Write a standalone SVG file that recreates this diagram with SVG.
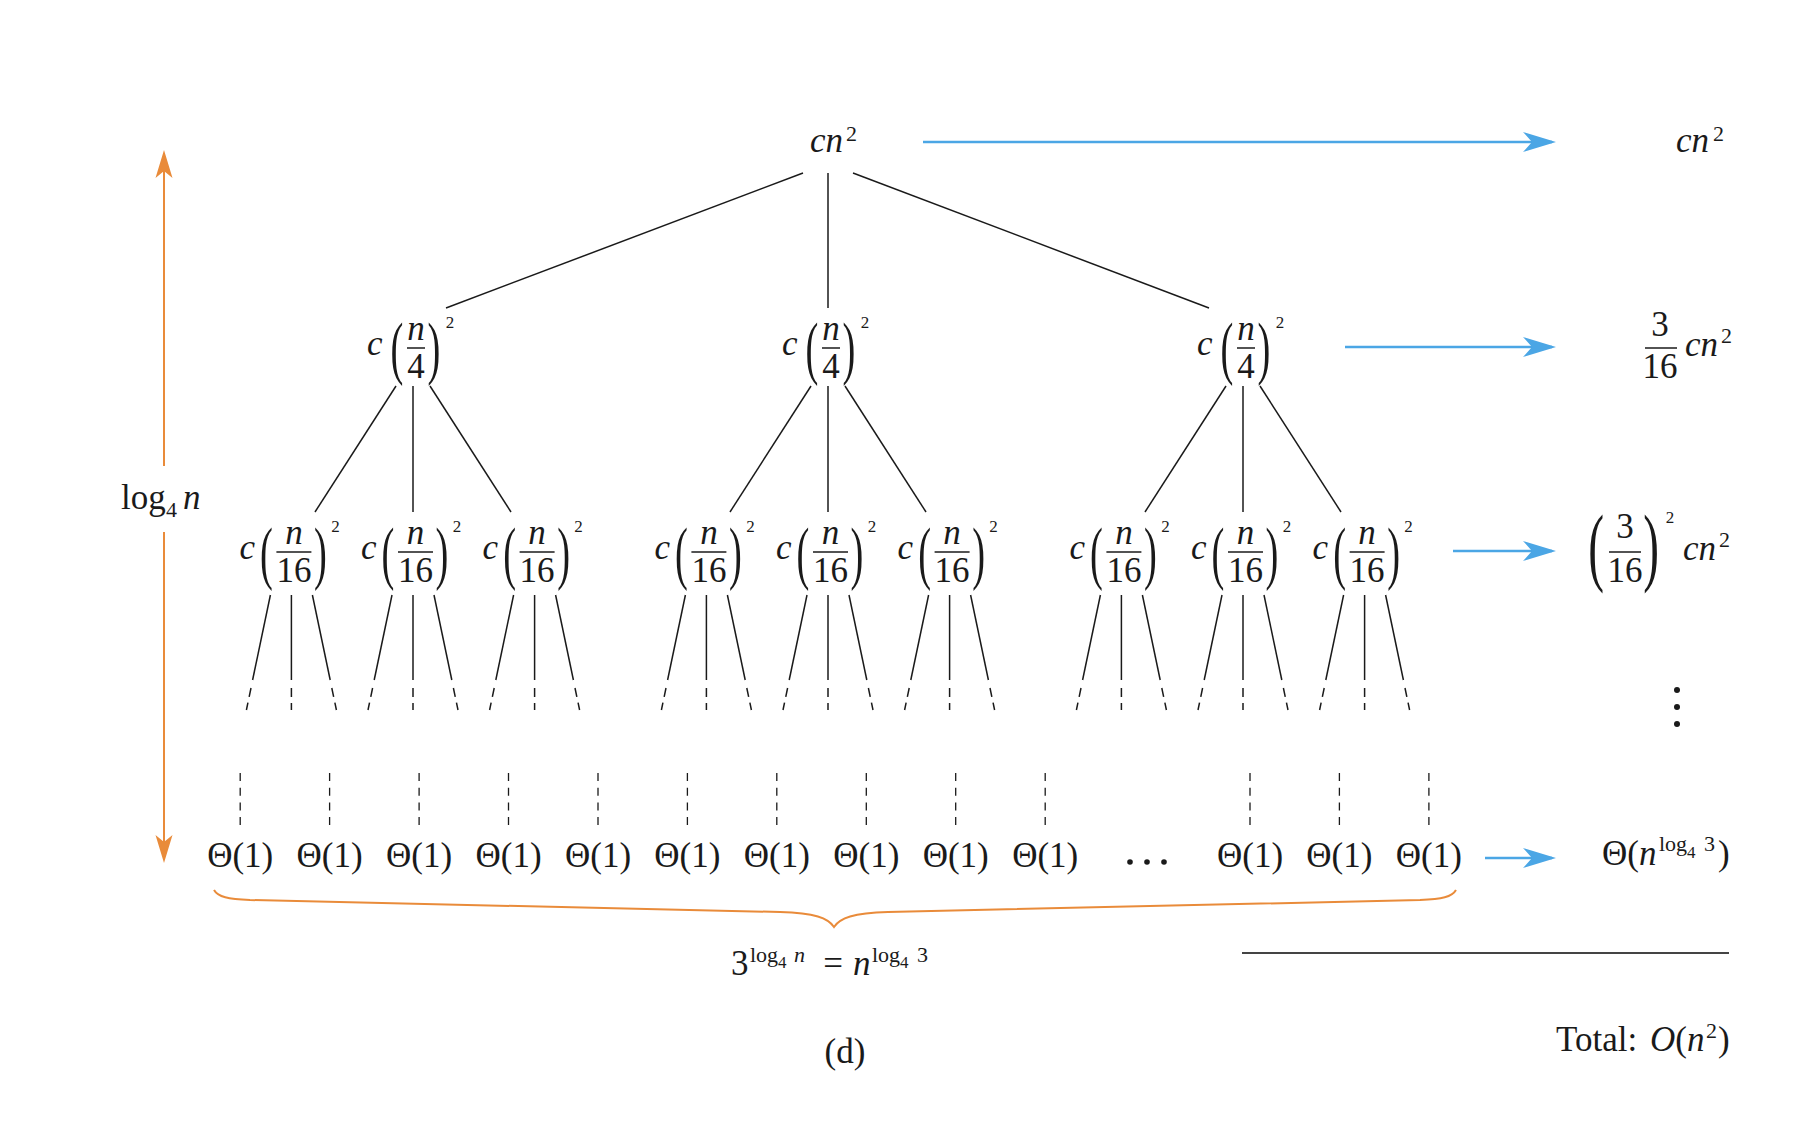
<svg xmlns="http://www.w3.org/2000/svg" width="1804" height="1144" viewBox="0 0 1804 1144">
<style>
.t{font-family:"Liberation Serif","Times New Roman",serif;font-size:35px;fill:#1a1a1a}
.i{font-style:italic}
.s{font-size:22px}
.ss{font-size:17px}
.p{font-size:70px}
.pr{font-size:86px}
.m{text-anchor:middle}
.fb{stroke:#1a1a1a;stroke-width:1.5}
.e line{stroke:#1a1a1a;stroke-width:1.5;fill:none}
.e line.d{stroke-dasharray:9 6}
.e line.v{stroke-dasharray:8 6.7;stroke-width:1.3}
.blue{stroke:#4BA6E5;stroke-width:2.6;fill:none}
.or{stroke:#E98B3A;stroke-width:2;fill:none}
</style>
<defs>
<marker id="ab" markerUnits="userSpaceOnUse" viewBox="-32 -12 38 24" refX="0" refY="0" markerWidth="38" markerHeight="24" orient="auto">
<path d="M4,0 L-29,-10 L-20,0 L-29,10 Z" fill="#4BA6E5"/>
</marker>
<marker id="ao" markerUnits="userSpaceOnUse" viewBox="-28 -10 34 20" refX="0" refY="0" markerWidth="34" markerHeight="20" orient="auto">
<path d="M3,0 L-25,-8.5 L-18,0 L-25,8.5 Z" fill="#E98B3A"/>
</marker>
</defs>
<rect width="1804" height="1144" fill="#fff"/>

<g id="connectors" class="e">
<line x1="803" y1="173" x2="446" y2="308"/>
<line x1="828" y1="173" x2="828" y2="308"/>
<line x1="853" y1="173" x2="1209" y2="308"/>

<line x1="396" y1="386" x2="315" y2="512"/>
<line x1="413" y1="386" x2="413" y2="512"/>
<line x1="430" y1="386" x2="511" y2="512"/>
<line x1="811" y1="386" x2="730" y2="512"/>
<line x1="828" y1="386" x2="828" y2="512"/>
<line x1="845" y1="386" x2="926" y2="512"/>
<line x1="1226" y1="386" x2="1145" y2="512"/>
<line x1="1243" y1="386" x2="1243" y2="512"/>
<line x1="1260" y1="386" x2="1341" y2="512"/>

<line x1="270.4" y1="595" x2="252.6" y2="680"/><line x1="291.4" y1="595" x2="291.4" y2="680"/><line x1="312.4" y1="595" x2="330.2" y2="680"/>
<line class="d" x1="251" y1="688" x2="246.4" y2="710"/><line class="d" x1="291.4" y1="688" x2="291.4" y2="710"/><line class="d" x1="331.8" y1="688" x2="336.4" y2="710"/>
<line x1="392" y1="595" x2="374.2" y2="680"/><line x1="413" y1="595" x2="413" y2="680"/><line x1="434" y1="595" x2="451.8" y2="680"/>
<line class="d" x1="372.6" y1="688" x2="368" y2="710"/><line class="d" x1="413" y1="688" x2="413" y2="710"/><line class="d" x1="453.4" y1="688" x2="458" y2="710"/>
<line x1="513.6" y1="595" x2="495.8" y2="680"/><line x1="534.6" y1="595" x2="534.6" y2="680"/><line x1="555.6" y1="595" x2="573.4" y2="680"/>
<line class="d" x1="494.2" y1="688" x2="489.6" y2="710"/><line class="d" x1="534.6" y1="688" x2="534.6" y2="710"/><line class="d" x1="575" y1="688" x2="579.6" y2="710"/>
<line x1="685.4" y1="595" x2="667.6" y2="680"/><line x1="706.4" y1="595" x2="706.4" y2="680"/><line x1="727.4" y1="595" x2="745.2" y2="680"/>
<line class="d" x1="666" y1="688" x2="661.4" y2="710"/><line class="d" x1="706.4" y1="688" x2="706.4" y2="710"/><line class="d" x1="746.8" y1="688" x2="751.4" y2="710"/>
<line x1="807" y1="595" x2="789.2" y2="680"/><line x1="828" y1="595" x2="828" y2="680"/><line x1="849" y1="595" x2="866.8" y2="680"/>
<line class="d" x1="787.6" y1="688" x2="783" y2="710"/><line class="d" x1="828" y1="688" x2="828" y2="710"/><line class="d" x1="868.4" y1="688" x2="873" y2="710"/>
<line x1="928.6" y1="595" x2="910.8" y2="680"/><line x1="949.6" y1="595" x2="949.6" y2="680"/><line x1="970.6" y1="595" x2="988.4" y2="680"/>
<line class="d" x1="909.2" y1="688" x2="904.6" y2="710"/><line class="d" x1="949.6" y1="688" x2="949.6" y2="710"/><line class="d" x1="990" y1="688" x2="994.6" y2="710"/>
<line x1="1100.4" y1="595" x2="1082.6" y2="680"/><line x1="1121.4" y1="595" x2="1121.4" y2="680"/><line x1="1142.4" y1="595" x2="1160.2" y2="680"/>
<line class="d" x1="1081" y1="688" x2="1076.4" y2="710"/><line class="d" x1="1121.4" y1="688" x2="1121.4" y2="710"/><line class="d" x1="1161.8" y1="688" x2="1166.4" y2="710"/>
<line x1="1222" y1="595" x2="1204.2" y2="680"/><line x1="1243" y1="595" x2="1243" y2="680"/><line x1="1264" y1="595" x2="1281.8" y2="680"/>
<line class="d" x1="1202.6" y1="688" x2="1198" y2="710"/><line class="d" x1="1243" y1="688" x2="1243" y2="710"/><line class="d" x1="1283.4" y1="688" x2="1288" y2="710"/>
<line x1="1343.6" y1="595" x2="1325.8" y2="680"/><line x1="1364.6" y1="595" x2="1364.6" y2="680"/><line x1="1385.6" y1="595" x2="1403.4" y2="680"/>
<line class="d" x1="1324.2" y1="688" x2="1319.6" y2="710"/><line class="d" x1="1364.6" y1="688" x2="1364.6" y2="710"/><line class="d" x1="1405" y1="688" x2="1409.6" y2="710"/>

<line class="v" x1="240.2" y1="773" x2="240.2" y2="825"/>
<line class="v" x1="329.6" y1="773" x2="329.6" y2="825"/>
<line class="v" x1="419.1" y1="773" x2="419.1" y2="825"/>
<line class="v" x1="508.5" y1="773" x2="508.5" y2="825"/>
<line class="v" x1="598" y1="773" x2="598" y2="825"/>
<line class="v" x1="687.4" y1="773" x2="687.4" y2="825"/>
<line class="v" x1="776.8" y1="773" x2="776.8" y2="825"/>
<line class="v" x1="866.3" y1="773" x2="866.3" y2="825"/>
<line class="v" x1="955.7" y1="773" x2="955.7" y2="825"/>
<line class="v" x1="1045.2" y1="773" x2="1045.2" y2="825"/>
<line class="v" x1="1250" y1="773" x2="1250" y2="825"/>
<line class="v" x1="1339.4" y1="773" x2="1339.4" y2="825"/>
<line class="v" x1="1428.9" y1="773" x2="1428.9" y2="825"/>

<path class="blue" d="M923,142 H1552" marker-end="url(#ab)"/>
<path class="blue" d="M1345,347 H1552" marker-end="url(#ab)"/>
<path class="blue" d="M1453,551 H1552" marker-end="url(#ab)"/>
<path class="blue" d="M1485,858 H1552" marker-end="url(#ab)"/>

<path class="or" d="M164,466 V153" marker-end="url(#ao)"/>
<path class="or" d="M164,532 V860" marker-end="url(#ao)"/>
<path class="or" d="M214,890 C218,897 228,899 250,900 L780,912 C815,913 828,918 834,927 C840,918 853,913 888,912 L1420,900 C1442,899 1452,897 1456,890"/>
<line x1="1242" y1="953" x2="1729" y2="953" style="stroke:#444;stroke-width:2;stroke-dasharray:none"/>
</g>

<g id="root" class="t">
<text class="i" x="810" y="152">cn</text>
<text class="s" x="846" y="141">2</text>
</g>

<g id="l1a" class="t">
<text class="i" x="367" y="355">c</text>
<text class="p m" transform="translate(397,371) scale(0.55,1)">(</text>
<text class="i m" x="416" y="340">n</text>
<line class="fb" x1="407" y1="348" x2="425" y2="348"/>
<text class="m" x="416" y="378">4</text>
<text class="p m" transform="translate(434,371) scale(0.55,1)">)</text>
<text class="ss m" x="450" y="328">2</text>
</g>
<g id="l1b" class="t">
<text class="i" x="782" y="355">c</text>
<text class="p m" transform="translate(812,371) scale(0.55,1)">(</text>
<text class="i m" x="831" y="340">n</text>
<line class="fb" x1="822" y1="348" x2="840" y2="348"/>
<text class="m" x="831" y="378">4</text>
<text class="p m" transform="translate(849,371) scale(0.55,1)">)</text>
<text class="ss m" x="865" y="328">2</text>
</g>
<g id="l1c" class="t">
<text class="i" x="1197" y="355">c</text>
<text class="p m" transform="translate(1227,371) scale(0.55,1)">(</text>
<text class="i m" x="1246" y="340">n</text>
<line class="fb" x1="1237" y1="348" x2="1255" y2="348"/>
<text class="m" x="1246" y="378">4</text>
<text class="p m" transform="translate(1264,371) scale(0.55,1)">)</text>
<text class="ss m" x="1280" y="328">2</text>
</g>

<g id="l2a" class="t">
<text class="i" x="239.4" y="559">c</text>
<text class="p m" transform="translate(266.4,575.5) scale(0.55,1)">(</text>
<text class="i m" x="293.9" y="544">n</text>
<line class="fb" x1="276.4" y1="552" x2="311.4" y2="552"/>
<text class="m" x="293.9" y="582">16</text>
<text class="p m" transform="translate(320.4,575.5) scale(0.55,1)">)</text>
<text class="ss m" x="335.4" y="532">2</text>
</g>
<g id="l2b" class="t">
<text class="i" x="361" y="559">c</text>
<text class="p m" transform="translate(388,575.5) scale(0.55,1)">(</text>
<text class="i m" x="415.5" y="544">n</text>
<line class="fb" x1="398" y1="552" x2="433" y2="552"/>
<text class="m" x="415.5" y="582">16</text>
<text class="p m" transform="translate(442,575.5) scale(0.55,1)">)</text>
<text class="ss m" x="457" y="532">2</text>
</g>
<g id="l2c" class="t">
<text class="i" x="482.6" y="559">c</text>
<text class="p m" transform="translate(509.6,575.5) scale(0.55,1)">(</text>
<text class="i m" x="537.1" y="544">n</text>
<line class="fb" x1="519.6" y1="552" x2="554.6" y2="552"/>
<text class="m" x="537.1" y="582">16</text>
<text class="p m" transform="translate(563.6,575.5) scale(0.55,1)">)</text>
<text class="ss m" x="578.6" y="532">2</text>
</g>
<g id="l2d" class="t">
<text class="i" x="654.4" y="559">c</text>
<text class="p m" transform="translate(681.4,575.5) scale(0.55,1)">(</text>
<text class="i m" x="708.9" y="544">n</text>
<line class="fb" x1="691.4" y1="552" x2="726.4" y2="552"/>
<text class="m" x="708.9" y="582">16</text>
<text class="p m" transform="translate(735.4,575.5) scale(0.55,1)">)</text>
<text class="ss m" x="750.4" y="532">2</text>
</g>
<g id="l2e" class="t">
<text class="i" x="776" y="559">c</text>
<text class="p m" transform="translate(803,575.5) scale(0.55,1)">(</text>
<text class="i m" x="830.5" y="544">n</text>
<line class="fb" x1="813" y1="552" x2="848" y2="552"/>
<text class="m" x="830.5" y="582">16</text>
<text class="p m" transform="translate(857,575.5) scale(0.55,1)">)</text>
<text class="ss m" x="872" y="532">2</text>
</g>
<g id="l2f" class="t">
<text class="i" x="897.6" y="559">c</text>
<text class="p m" transform="translate(924.6,575.5) scale(0.55,1)">(</text>
<text class="i m" x="952.1" y="544">n</text>
<line class="fb" x1="934.6" y1="552" x2="969.6" y2="552"/>
<text class="m" x="952.1" y="582">16</text>
<text class="p m" transform="translate(978.6,575.5) scale(0.55,1)">)</text>
<text class="ss m" x="993.6" y="532">2</text>
</g>
<g id="l2g" class="t">
<text class="i" x="1069.4" y="559">c</text>
<text class="p m" transform="translate(1096.4,575.5) scale(0.55,1)">(</text>
<text class="i m" x="1123.9" y="544">n</text>
<line class="fb" x1="1106.4" y1="552" x2="1141.4" y2="552"/>
<text class="m" x="1123.9" y="582">16</text>
<text class="p m" transform="translate(1150.4,575.5) scale(0.55,1)">)</text>
<text class="ss m" x="1165.4" y="532">2</text>
</g>
<g id="l2h" class="t">
<text class="i" x="1191" y="559">c</text>
<text class="p m" transform="translate(1218,575.5) scale(0.55,1)">(</text>
<text class="i m" x="1245.5" y="544">n</text>
<line class="fb" x1="1228" y1="552" x2="1263" y2="552"/>
<text class="m" x="1245.5" y="582">16</text>
<text class="p m" transform="translate(1272,575.5) scale(0.55,1)">)</text>
<text class="ss m" x="1287" y="532">2</text>
</g>
<g id="l2i" class="t">
<text class="i" x="1312.6" y="559">c</text>
<text class="p m" transform="translate(1339.6,575.5) scale(0.55,1)">(</text>
<text class="i m" x="1367.1" y="544">n</text>
<line class="fb" x1="1349.6" y1="552" x2="1384.6" y2="552"/>
<text class="m" x="1367.1" y="582">16</text>
<text class="p m" transform="translate(1393.6,575.5) scale(0.55,1)">)</text>
<text class="ss m" x="1408.6" y="532">2</text>
</g>

<g id="leaves" class="t m">
<text x="240.2" y="867">Θ(1)</text>
<text x="329.6" y="867">Θ(1)</text>
<text x="419.1" y="867">Θ(1)</text>
<text x="508.5" y="867">Θ(1)</text>
<text x="598" y="867">Θ(1)</text>
<text x="687.4" y="867">Θ(1)</text>
<text x="776.8" y="867">Θ(1)</text>
<text x="866.3" y="867">Θ(1)</text>
<text x="955.7" y="867">Θ(1)</text>
<text x="1045.2" y="867">Θ(1)</text>
<text x="1250" y="867">Θ(1)</text>
<text x="1339.4" y="867">Θ(1)</text>
<text x="1428.9" y="867">Θ(1)</text>
</g>
<g id="ellipsis" fill="#1a1a1a">
<circle cx="1130" cy="862" r="2.8"/><circle cx="1147" cy="862" r="2.8"/><circle cx="1164" cy="862" r="2.8"/>
</g>

<g id="sum0" class="t">
<text class="i" x="1676" y="152">cn</text>
<text class="s" x="1713" y="141">2</text>
</g>
<g id="sum1" class="t">
<text class="m" x="1660" y="336">3</text>
<line class="fb" x1="1645" y1="348" x2="1677" y2="348"/>
<text class="m" x="1660" y="378">16</text>
<text class="i" x="1685" y="356">cn</text>
<text class="s" x="1721" y="343">2</text>
</g>
<g id="sum2" class="t">
<text class="pr m" transform="translate(1596,574.5) scale(0.55,1)">(</text>
<text class="m" x="1625" y="538">3</text>
<line class="fb" x1="1609" y1="552" x2="1641" y2="552"/>
<text class="m" x="1625" y="582">16</text>
<text class="pr m" transform="translate(1651,574.5) scale(0.55,1)">)</text>
<text class="ss m" x="1670" y="523">2</text>
<text class="i" x="1683" y="560">cn</text>
<text class="s" x="1719" y="547">2</text>
</g>
<g id="vdots" fill="#1a1a1a">
<circle cx="1677" cy="690" r="3"/><circle cx="1677" cy="707" r="3"/><circle cx="1677" cy="724" r="3"/>
</g>
<g id="sum3" class="t">
<text x="1602" y="865">Θ(<tspan class="i">n</tspan></text>
<text class="s" x="1659" y="851">log</text>
<text class="ss" x="1687" y="858">4</text>
<text class="s" x="1704" y="851">3</text>
<text x="1718" y="865">)</text>
</g>

<g id="height" class="t">
<text x="121" y="509">log</text>
<text class="s" x="166" y="517">4</text>
<text class="i" x="183" y="509">n</text>
</g>

<g id="count" class="t">
<text x="731" y="975">3</text>
<text class="s" x="750" y="962">log</text>
<text class="ss" x="778" y="968">4</text>
<text class="s i" x="794" y="962">n</text>
<text class="m" x="833" y="975">=</text>
<text class="i" x="853" y="975">n</text>
<text class="s" x="872" y="962">log</text>
<text class="ss" x="900" y="968">4</text>
<text class="s" x="917" y="962">3</text>
</g>

<g id="total" class="t">
<text x="1556" y="1051">Total:</text>
<text x="1650" y="1051"><tspan class="i">O</tspan>(<tspan class="i">n</tspan></text>
<text class="s" x="1706" y="1038">2</text>
<text x="1718" y="1051">)</text>
</g>

<g id="caption" class="t">
<text class="m" x="845" y="1063">(d)</text>
</g>
</svg>
